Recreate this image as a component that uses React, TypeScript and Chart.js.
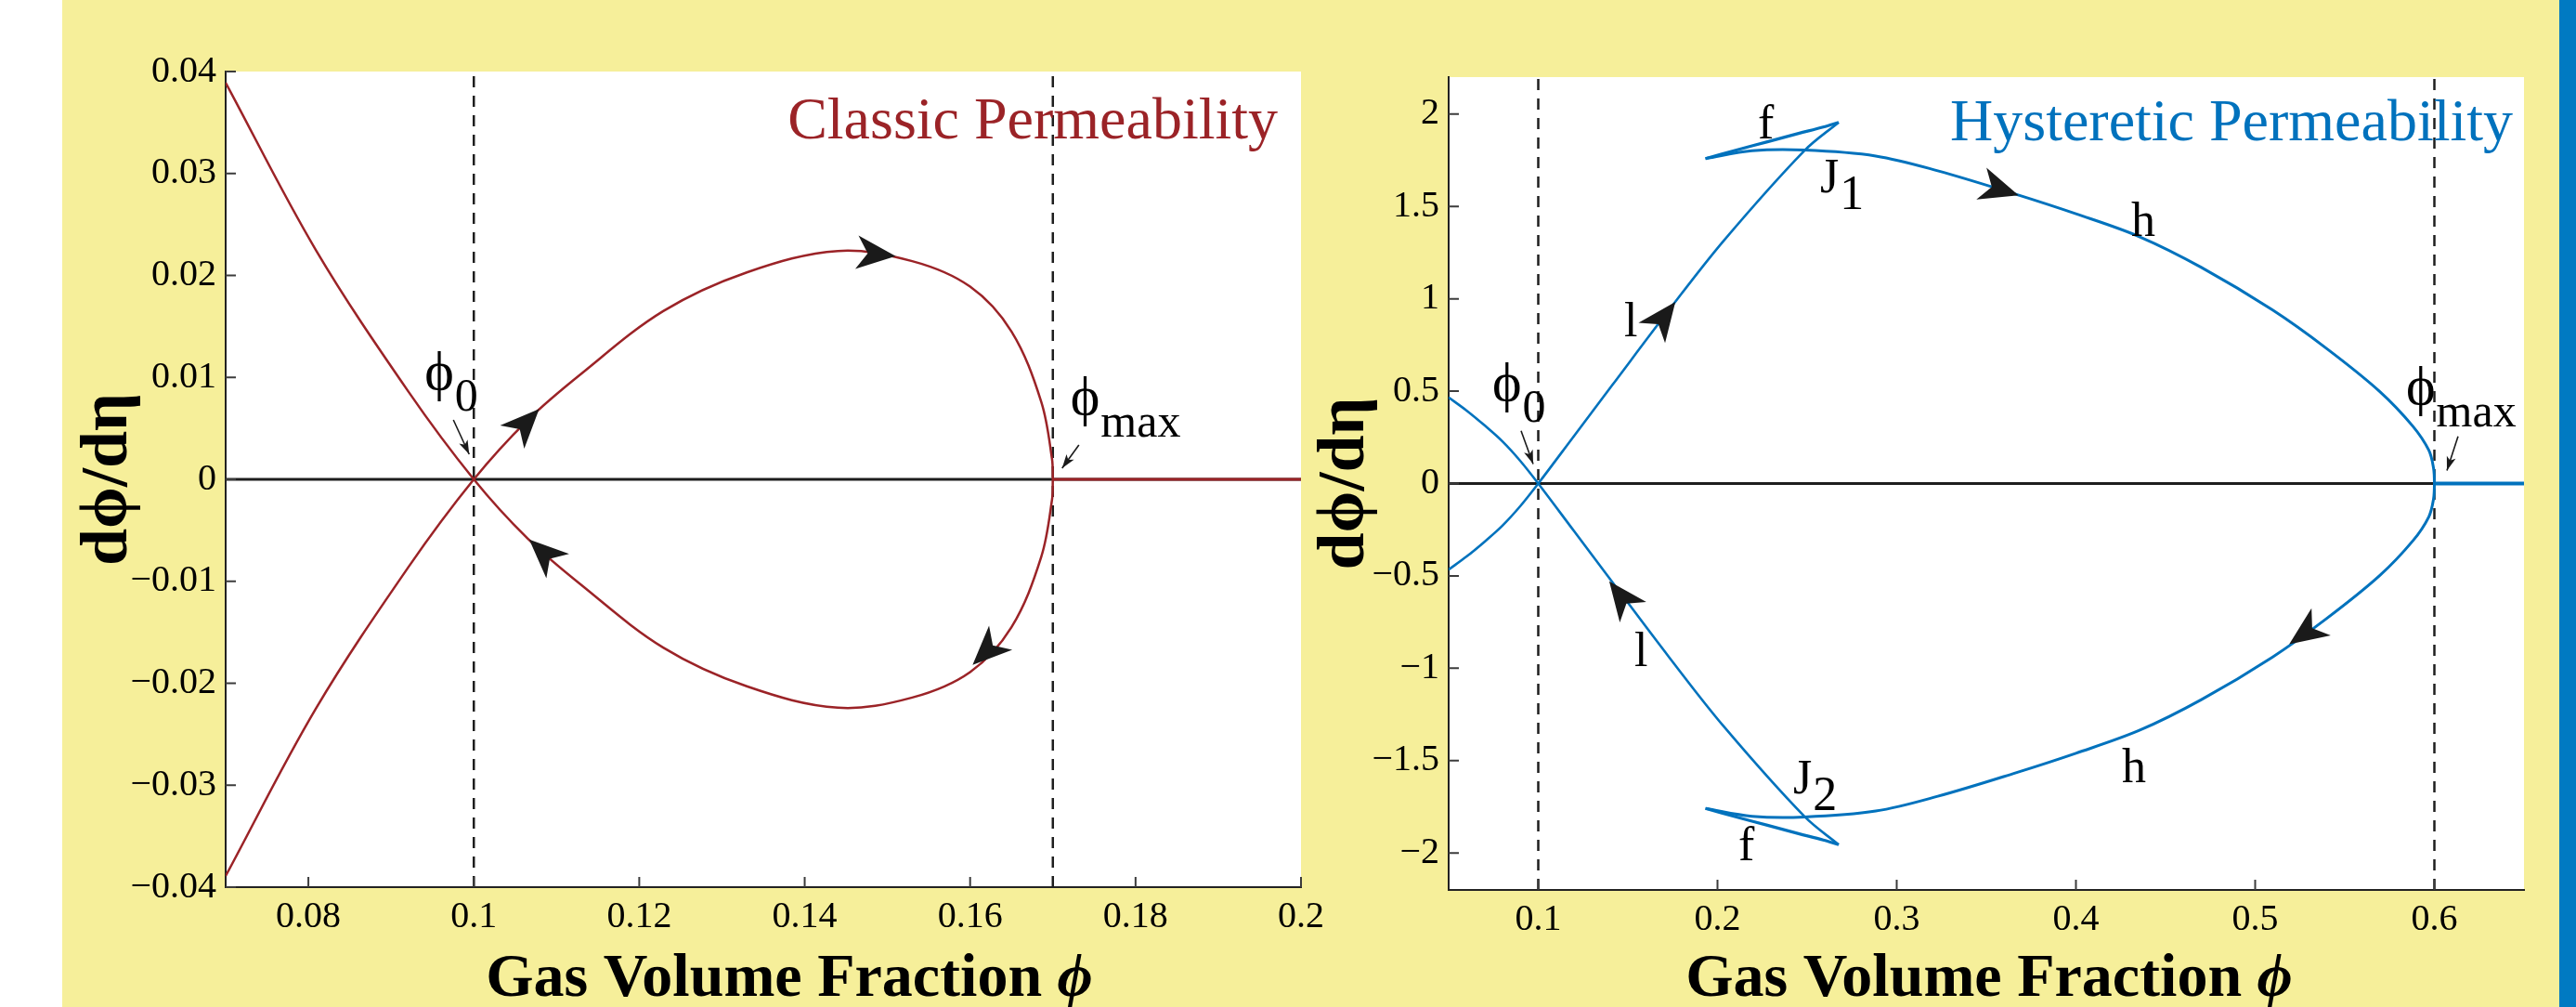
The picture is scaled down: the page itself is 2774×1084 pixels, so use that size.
import React, { useEffect, useRef } from "react";
import { Chart, registerables } from "chart.js";
Chart.register(...registerables);

const PAGE_W = 2774;
const PAGE_H = 1084;
const YELLOW = "#F6EF9A";
const STRIPE = "#007AC2";
const RED = "#9B2327";
const BLUE = "#0072BD";
const INK = "#1e1e1e";
const SERIF = '"Liberation Serif", "Times New Roman", serif';

// ---------------- Classic permeability (left panel) ----------------
const classicXTicks = [0.08, 0.1, 0.12, 0.14, 0.16, 0.18, 0.2];
const classicYTicks = [-0.04, -0.03, -0.02, -0.01, 0, 0.01, 0.02, 0.03, 0.04];
const classicLineX = [0.07, 0.0809, 0.0921, 0.1];
const classicFallY = [0.0389, 0.0225, 0.0086, 0];
const classicRiseY = [-0.0389, -0.0225, -0.0086, 0];
const classicLoopX = [0.1, 0.1065, 0.1129, 0.1229, 0.133, 0.144, 0.153, 0.16, 0.165, 0.1686, 0.1699, 0.17];
const classicLoopUpperY = [0, 0.0058, 0.0103, 0.0165, 0.0203, 0.0224, 0.0214, 0.0189, 0.0145, 0.0076, 0.002, 0];
const classicLoopLowerY = [0, -0.0058, -0.0103, -0.0165, -0.0203, -0.0224, -0.0214, -0.0189, -0.0145, -0.0076, -0.002, 0];
const classicTailX = [0.17, 0.2];
const classicTailY = [0, 0];
const classicDashX = [0.1, 0.17];
const classicArrows = [
  [0.104, 0.0036, 0.1079, 0.0069],
  [0.145, 0.02238, 0.151, 0.0219],
  [0.164, -0.0153, 0.1603, -0.0182],
  [0.11, -0.0084, 0.1067, -0.0059],
];
const classicPointers = [
  [0.09753, 0.00583, 0.09944, 0.00246],
  [0.17315, 0.00337, 0.17112, 0.00109],
];

// ---------------- Hysteretic permeability (right panel) ----------------
const hystXTicks = [0.1, 0.2, 0.3, 0.4, 0.5, 0.6];
const hystYTicks = [-2, -1.5, -1, -0.5, 0, 0.5, 1, 1.5, 2];
const hystEdgeX = [0.05, 0.06, 0.07, 0.08, 0.09, 0.1];
const hystEdgeFallY = [0.466, 0.395, 0.315, 0.228, 0.122, 0];
const hystEdgeRiseY = [-0.466, -0.395, -0.315, -0.228, -0.122, 0];
const hystLowX = [0.1, 0.12, 0.141, 0.173, 0.2037, 0.2484, 0.2676];
const hystLowUpperY = [0, 0.258, 0.529, 0.94, 1.317, 1.801, 1.955];
const hystLowLowerY = [0, -0.258, -0.529, -0.94, -1.317, -1.801, -1.955];
const hystFoldX = [0.2676, 0.259, 0.2452, 0.2279, 0.2106, 0.1933];
const hystFoldUpperY = [1.955, 1.93, 1.895, 1.85, 1.805, 1.759];
const hystFoldLowerY = [-1.955, -1.93, -1.895, -1.85, -1.805, -1.759];
const hystHighX = [0.1933, 0.2193, 0.2484, 0.2883, 0.3229, 0.3661, 0.4, 0.4357, 0.47, 0.5096, 0.54, 0.5693, 0.588, 0.5969, 0.5995, 0.6];
const hystHighUpperY = [1.759, 1.801, 1.805, 1.773, 1.693, 1.567, 1.46, 1.335, 1.17, 0.94, 0.73, 0.5, 0.31, 0.18, 0.085, 0];
const hystHighLowerY = [-1.759, -1.801, -1.805, -1.773, -1.693, -1.567, -1.46, -1.335, -1.17, -0.94, -0.73, -0.5, -0.31, -0.18, -0.085, 0];
const hystTailX = [0.6, 0.65];
const hystTailY = [0, 0];
const hystDashX = [0.1, 0.6];
const hystArrows = [
  [0.17, 0.9, 0.1765, 0.983],
  [0.355, 1.6, 0.368, 1.56],
  [0.53, -0.795, 0.519, -0.87],
  [0.145, -0.597, 0.1396, -0.529],
];
const hystPointers = [
  [0.09041, 0.2857, 0.09715, 0.1053],
  [0.6132, 0.2556, 0.607, 0.0702],
];

type XY = { x: number; y: number };
const pts = (xs: number[], ys: number[]): XY[] => xs.map((x, i) => ({ x, y: ys[i] }));

interface Label { x: number; y: number; text: string; sub?: string; size?: number; subSize?: number; color?: string; align?: CanvasTextAlign; subDy?: number }

const classicLabels: Label[] = [
  { x: 0.09404, y: 0.0088, text: "\u03D5", size: 60, sub: "0", subSize: 50, subDy: 23 },
  { x: 0.17213, y: 0.0064, text: "\u03D5", size: 60, sub: "max", subSize: 50, subDy: 24 },
  { x: 0.1972, y: 0.03344, text: "Classic Permeability", size: 64, color: RED, align: "right" },
];
const hystLabels: Label[] = [
  { x: 0.07435, y: 0.451, text: "\u03D5", size: 60, sub: "0", subSize: 50, subDy: 23 },
  { x: 0.5842, y: 0.431, text: "\u03D5", size: 60, sub: "max", subSize: 50, subDy: 24 },
  { x: 0.2225, y: 1.87, text: "f" },
  { x: 0.2573, y: 1.574, text: "J", sub: "1", subDy: 18 },
  { x: 0.4308, y: 1.338, text: "h" },
  { x: 0.1479, y: 0.797, text: "l" },
  { x: 0.1536, y: -0.987, text: "l" },
  { x: 0.4256, y: -1.619, text: "h" },
  { x: 0.2422, y: -1.679, text: "J", sub: "2", subDy: 18 },
  { x: 0.2117, y: -2.04, text: "f" },
  { x: 0.6438, y: 1.86, text: "Hysteretic Permeability", size: 64, color: BLUE, align: "right" },
];

interface PanelSpec {
  canvasLeft: number;
  canvasW: number;
  padTop: number;
  padRight: number;
  yAxisW: number;
  xAxisH: number;
  xMin: number; xMax: number; yMin: number; yMax: number;
  xTicks: number[]; yTicks: number[];
  datasets: any[];
  arrows: number[][];
  pointers: number[][];
  labels: Label[];
  yTitleX: number;
  xTitleShift: number;
}

const fmt = (v: number) => (v < 0 ? "\u2212" : "") + String(Math.abs(v));

function curve(data: XY[], color: string, width: number, extra: any = {}) {
  return { data, showLine: true, borderColor: color, borderWidth: width, pointRadius: 0, tension: 0.35, fill: false, order: 0, ...extra };
}

const classicSpec: PanelSpec = {
  canvasLeft: 67, canvasW: 1413, padTop: 77, padRight: 79, yAxisW: 176, xAxisH: 129,
  xMin: 0.07, xMax: 0.2, yMin: -0.04, yMax: 0.04,
  xTicks: classicXTicks, yTicks: classicYTicks,
  datasets: [
    curve([...pts(classicLineX, classicFallY), ...pts(classicLoopX, classicLoopLowerY).slice(1)], RED, 2.5),
    curve([...pts(classicLineX, classicRiseY), ...pts(classicLoopX, classicLoopUpperY).slice(1)], RED, 2.5),
    curve(pts(classicTailX, classicTailY), RED, 3, { tension: 0 }),
    ...classicDashX.map((x) => curve(pts([x, x], [-0.04, 0.04]), INK, 2.5, { tension: 0, borderDash: [12, 9], order: 3 })),
    curve(pts([0.07, 0.2], [0, 0]), INK, 3, { tension: 0, order: 5 }),
  ],
  arrows: classicArrows, pointers: classicPointers, labels: classicLabels,
  yTitleX: 117, xTitleShift: 28,
};

const hystSpec: PanelSpec = {
  canvasLeft: 1404, canvasW: 1352, padTop: 83, padRight: 38, yAxisW: 156, xAxisH: 126,
  xMin: 0.05, xMax: 0.65, yMin: -2.2, yMax: 2.2,
  xTicks: hystXTicks, yTicks: hystYTicks,
  datasets: [
    curve([...pts(hystEdgeX, hystEdgeFallY), ...pts(hystLowX, hystLowLowerY).slice(1)], BLUE, 2.6),
    curve([...pts(hystEdgeX, hystEdgeRiseY), ...pts(hystLowX, hystLowUpperY).slice(1)], BLUE, 2.6),
    curve(pts(hystFoldX, hystFoldUpperY), BLUE, 3.2),
    curve(pts(hystFoldX, hystFoldLowerY), BLUE, 3.2),
    curve([...pts(hystHighX, hystHighUpperY), ...pts(hystHighX, hystHighLowerY).reverse().slice(1)], BLUE, 3),
    curve(pts(hystTailX, hystTailY), BLUE, 4, { tension: 0 }),
    ...hystDashX.map((x) => curve(pts([x, x], [-2.2, 2.2]), INK, 2.5, { tension: 0, borderDash: [12, 9], order: 3 })),
    curve(pts([0.05, 0.65], [0, 0]), INK, 3, { tension: 0, order: 5 }),
  ],
  arrows: hystArrows, pointers: hystPointers, labels: hystLabels,
  yTitleX: 1449, xTitleShift: 3,
};

function head(ctx: CanvasRenderingContext2D, x: number, y: number, ang: number, L: number, W: number, notch: number) {
  const c = Math.cos(ang), s = Math.sin(ang);
  const P = (u: number, v: number): [number, number] => [x + u * c - v * s, y + u * s + v * c];
  ctx.beginPath();
  ctx.moveTo(x, y);
  ctx.lineTo(...P(-L, W));
  ctx.lineTo(...P(-L * notch, 0));
  ctx.lineTo(...P(-L, -W));
  ctx.closePath();
  ctx.fill();
}

function buildConfig(spec: PanelSpec): any {
  const decor = {
    id: "panelDecor",
    beforeDraw(chart: any) {
      const { ctx, chartArea: a } = chart;
      ctx.save();
      ctx.fillStyle = "#ffffff";
      ctx.fillRect(a.left, a.top, a.right - a.left, a.bottom - a.top);
      ctx.restore();
    },
    afterDraw(chart: any) {
      const { ctx, chartArea: a, scales } = chart;
      const X = (v: number) => scales.x.getPixelForValue(v);
      const Y = (v: number) => scales.y.getPixelForValue(v);
      ctx.save();
      // inward tick marks
      ctx.strokeStyle = "#3c3c3c";
      ctx.lineWidth = 2;
      ctx.beginPath();
      for (const t of spec.xTicks) { const p = X(t); ctx.moveTo(p, a.bottom); ctx.lineTo(p, a.bottom - 11); }
      for (const t of spec.yTicks) { const p = Y(t); ctx.moveTo(a.left, p); ctx.lineTo(a.left + 11, p); }
      ctx.stroke();
      // direction arrowheads
      ctx.fillStyle = "#1a1a1a";
      for (const [x0, y0, x1, y1] of spec.arrows) {
        const ang = Math.atan2(Y(y1) - Y(y0), X(x1) - X(x0));
        head(ctx, X(x1), Y(y1), ang, 42, 18, 0.72);
      }
      // thin pointer arrows
      ctx.strokeStyle = "#1a1a1a";
      ctx.lineWidth = 1.6;
      for (const [x0, y0, x1, y1] of spec.pointers) {
        ctx.beginPath();
        ctx.moveTo(X(x0), Y(y0));
        ctx.lineTo(X(x1), Y(y1));
        ctx.stroke();
        const ang = Math.atan2(Y(y1) - Y(y0), X(x1) - X(x0));
        head(ctx, X(x1), Y(y1), ang, 15, 5, 0.75);
      }
      // text labels
      ctx.textBaseline = "alphabetic";
      for (const l of spec.labels) {
        const size = l.size ?? 52;
        ctx.font = `${size}px ${SERIF}`;
        ctx.fillStyle = l.color ?? "#000";
        ctx.textAlign = l.align ?? "left";
        const px = X(l.x), py = Y(l.y);
        ctx.fillText(l.text, px, py);
        if (l.sub) {
          const w = ctx.measureText(l.text).width;
          ctx.font = `${l.subSize ?? size}px ${SERIF}`;
          ctx.textAlign = "left";
          ctx.fillText(l.sub, px + w + 1, py + (l.subDy ?? 20));
        }
      }
      // x-axis title
      const cx = (a.left + a.right) / 2 + spec.xTitleShift;
      ctx.fillStyle = "#000";
      ctx.font = `bold 66px ${SERIF}`;
      const main = "Gas Volume Fraction ";
      const mw = ctx.measureText(main).width;
      ctx.font = `italic bold 66px ${SERIF}`;
      const pw = ctx.measureText("\u03D5").width;
      const sx = cx - (mw + pw) / 2;
      ctx.textAlign = "left";
      ctx.font = `bold 66px ${SERIF}`;
      ctx.fillText(main, sx, 1072);
      ctx.font = `italic bold 66px ${SERIF}`;
      ctx.fillText("\u03D5", sx + mw, 1072);
      // y-axis title
      ctx.save();
      ctx.translate(spec.yTitleX - spec.canvasLeft, (a.top + a.bottom) / 2);
      ctx.rotate(-Math.PI / 2);
      ctx.font = `bold 72px ${SERIF}`;
      ctx.textAlign = "center";
      ctx.textBaseline = "middle";
      ctx.fillText("d\u03D5/d\u03B7", 0, 0);
      ctx.restore();
      ctx.restore();
    },
  };

  const tickFont = { family: SERIF, size: 40 };
  return {
    type: "scatter",
    data: { datasets: spec.datasets },
    options: {
      animation: false,
      responsive: false,
      maintainAspectRatio: false,
      layout: { padding: { top: spec.padTop, right: spec.padRight, left: 0, bottom: 0 } },
      plugins: { legend: { display: false }, tooltip: { enabled: false } },
      scales: {
        x: {
          type: "linear", min: spec.xMin, max: spec.xMax,
          afterBuildTicks: (s: any) => { s.ticks = spec.xTicks.map((value) => ({ value })); },
          afterFit: (s: any) => { s.height = spec.xAxisH; },
          ticks: { autoSkip: false, maxRotation: 0, padding: 8, color: "#000", font: tickFont, callback: (v: number) => fmt(v) },
          grid: { display: true, drawOnChartArea: false, drawTicks: false },
          border: { display: true, color: "#222", width: 2 },
        },
        y: {
          type: "linear", min: spec.yMin, max: spec.yMax,
          afterBuildTicks: (s: any) => { s.ticks = spec.yTicks.map((value) => ({ value })); },
          afterFit: (s: any) => { s.width = spec.yAxisW; },
          ticks: { autoSkip: false, padding: 10, color: "#000", font: tickFont, callback: (v: number) => fmt(v) },
          grid: { display: true, drawOnChartArea: false, drawTicks: false },
          border: { display: true, color: "#222", width: 2 },
        },
      },
    },
    plugins: [decor],
  };
}

function Panel({ spec }: { spec: PanelSpec }) {
  const ref = useRef<HTMLCanvasElement>(null);
  useEffect(() => {
    const chart = new Chart(ref.current as HTMLCanvasElement, buildConfig(spec));
    return () => chart.destroy();
  }, [spec]);
  return (
    <canvas
      ref={ref}
      width={spec.canvasW}
      height={PAGE_H}
      style={{ position: "absolute", left: spec.canvasLeft, top: 0, width: spec.canvasW, height: PAGE_H }}
    />
  );
}

export default function App() {
  return (
    <div style={{ position: "fixed", left: 0, top: 0, width: PAGE_W, height: PAGE_H, background: "#fff", overflow: "hidden" }}>
      <div style={{ position: "absolute", left: 67, top: 0, width: 2756 - 67, height: PAGE_H, background: YELLOW }} />
      <div style={{ position: "absolute", left: 2756, top: 0, width: PAGE_W - 2756, height: PAGE_H, background: STRIPE }} />
      <Panel spec={classicSpec} />
      <Panel spec={hystSpec} />
    </div>
  );
}
